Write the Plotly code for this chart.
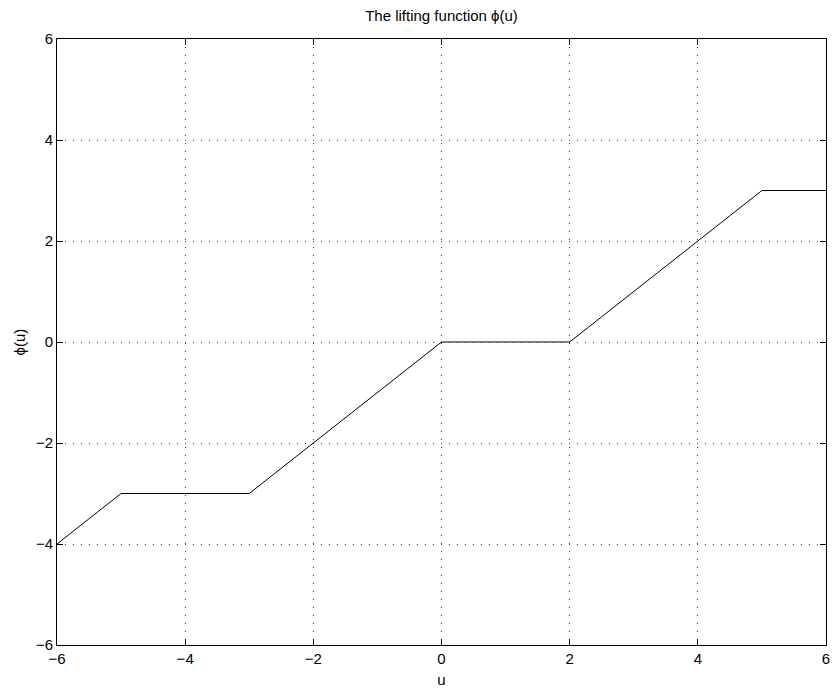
import plotly.graph_objects as go

u_vals = [-6, -5, -3, 0, 2, 5, 6]
phi_vals = [-4, -3, -3, 0, 0, 3, 3]
tick_vals = [-6, -4, -2, 0, 2, 4, 6]
tick_text = ["\u22126", "\u22124", "\u22122", "0", "2", "4", "6"]

FONT = "Liberation Sans, Arial"

fig = go.Figure()
fig.add_trace(go.Scatter(x=u_vals, y=phi_vals, mode="lines",
                         line=dict(color="black", width=1), showlegend=False))

axis_common = dict(
    range=[-6, 6], tickvals=tick_vals, ticktext=tick_text,
    showgrid=True, gridcolor="rgba(0,0,0,0.75)", griddash="1px,7px", gridwidth=1,
    zeroline=False, showline=True, linecolor="black", linewidth=1, mirror="ticks",
    ticks="inside", ticklen=6, tickcolor="black", automargin=False,
    tickfont=dict(family=FONT, size=15, color="black"),
)

fig.update_layout(
    width=833, height=692,
    margin=dict(l=57, r=7, t=39, b=47),
    paper_bgcolor="white", plot_bgcolor="white",
    title=dict(text="The lifting function \u03d5(u)", x=0.5, xref="paper", xanchor="center",
               y=1, yref="container", yanchor="top", pad=dict(t=10),
               font=dict(family=FONT, size=15, color="black")),
    xaxis=dict(**axis_common,
               title=dict(text="u", standoff=8,
                          font=dict(family=FONT, size=15, color="black"))),
    yaxis=dict(**axis_common,
               title=dict(text="\u03d5(u)", standoff=6,
                          font=dict(family=FONT, size=15, color="black"))),
)

fig.write_html("out.html")
